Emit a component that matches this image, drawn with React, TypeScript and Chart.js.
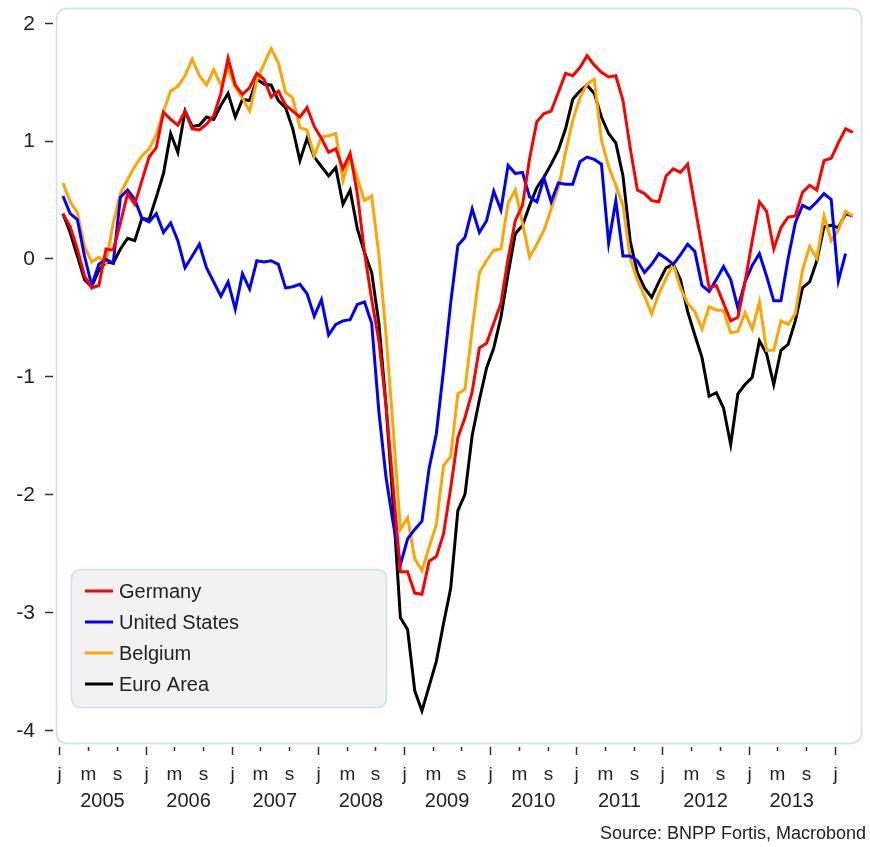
import React, { useEffect, useRef } from 'react';
import { Chart, registerables } from 'chart.js';

Chart.register(...registerables);

// Monthly data, January 2005 onwards
const startYear = 2005;
const years = [2005, 2006, 2007, 2008, 2009, 2010, 2011, 2012, 2013];
const yTicks = [2, 1, 0, -1, -2, -3, -4];
const monthTickLabels = ['j', 'm', 's'];
const seriesNames = ['Germany', 'United States', 'Belgium', 'Euro Area'];
const seriesColors = ['#ff0000', '#0000ff', '#ffa500', '#000000'];
const sourceText = 'Source: BNPP Fortis, Macrobond';

const germany = [
  0.38, 0.27, 0.08, -0.15, -0.25, -0.23, 0.08, 0.07, 0.30, 0.55, 0.46, 0.66,
  0.86, 0.94, 1.24, 1.18, 1.13, 1.25, 1.10, 1.09, 1.14, 1.21, 1.40, 1.70,
  1.47, 1.39, 1.45, 1.57, 1.52, 1.37, 1.42, 1.30, 1.25, 1.20, 1.28, 1.12,
  1.02, 0.90, 0.93, 0.76, 0.89, 0.55, 0.05, -0.35, -0.70, -1.25, -1.95, -2.66,
  -2.66, -2.84, -2.85, -2.57, -2.53, -2.34, -1.95, -1.52, -1.35, -1.13, -0.76, -0.72,
  -0.55, -0.38, 0.00, 0.32, 0.45, 0.85, 1.16, 1.23, 1.25, 1.41, 1.57, 1.55,
  1.62, 1.72, 1.64, 1.58, 1.54, 1.55, 1.34, 0.94, 0.58, 0.55, 0.49, 0.48,
  0.70, 0.76, 0.73, 0.80, 0.45, 0.10, -0.25, -0.23, -0.38, -0.53, -0.50, -0.20,
  0.15, 0.48, 0.40, 0.08, 0.26, 0.35, 0.36, 0.56, 0.62, 0.58, 0.83, 0.85,
  0.98, 1.10, 1.07,
];

const unitedStates = [
  0.53, 0.38, 0.33, 0.02, -0.23, -0.05, -0.01, -0.04, 0.52, 0.58, 0.50, 0.34,
  0.31, 0.38, 0.22, 0.30, 0.15, -0.08, 0.02, 0.12, -0.08, -0.20, -0.32, -0.20,
  -0.43, -0.13, -0.26, -0.02, -0.03, -0.02, -0.05, -0.25, -0.24, -0.22, -0.30, -0.49,
  -0.35, -0.65, -0.56, -0.53, -0.52, -0.39, -0.37, -0.55, -1.30, -1.86, -2.25, -2.60,
  -2.38, -2.30, -2.23, -1.78, -1.49, -0.95, -0.38, 0.11, 0.18, 0.42, 0.22, 0.32,
  0.57, 0.41, 0.79, 0.72, 0.73, 0.52, 0.48, 0.68, 0.48, 0.64, 0.63, 0.63,
  0.82, 0.86, 0.84, 0.80, 0.13, 0.49, 0.02, 0.02, -0.02, -0.12, -0.05, 0.04,
  0.00, -0.05, 0.03, 0.12, 0.06, -0.23, -0.28, -0.18, -0.07, -0.18, -0.42, -0.20,
  -0.06, 0.04, -0.15, -0.36, -0.36, 0.00, 0.30, 0.45, 0.42, 0.48, 0.55, 0.50,
  -0.19, 0.04,
];

const belgium = [
  0.64, 0.48, 0.39, 0.10, -0.03, 0.01, -0.04, 0.30, 0.55, 0.67, 0.78, 0.87,
  0.93, 1.05, 1.25, 1.42, 1.46, 1.55, 1.69, 1.55, 1.47, 1.60, 1.47, 1.61,
  1.45, 1.36, 1.25, 1.51, 1.65, 1.78, 1.66, 1.41, 1.36, 1.11, 1.09, 0.87,
  1.03, 1.04, 1.06, 0.66, 0.87, 0.68, 0.49, 0.53, 0.03, -0.65, -1.45, -2.30,
  -2.20, -2.55, -2.65, -2.45, -2.26, -1.76, -1.68, -1.15, -1.11, -0.60, -0.12, -0.02,
  0.07, 0.08, 0.47, 0.58, 0.30, 0.01, 0.12, 0.24, 0.42, 0.60, 0.90, 1.17,
  1.36, 1.48, 1.52, 1.00, 0.78, 0.62, 0.45, 0.00, -0.18, -0.32, -0.47, -0.30,
  -0.17, -0.05, -0.25, -0.38, -0.45, -0.60, -0.41, -0.44, -0.44, -0.63, -0.62, -0.46,
  -0.60, -0.37, -0.78, -0.78, -0.53, -0.56, -0.47, -0.10, 0.10, 0.00, 0.36, 0.15,
  0.24, 0.40, 0.36,
];

const euroArea = [
  0.38, 0.22, 0.02, -0.18, -0.24, -0.10, -0.03, -0.04, 0.08, 0.17, 0.15, 0.34,
  0.33, 0.52, 0.72, 1.06, 0.90, 1.25, 1.12, 1.13, 1.20, 1.18, 1.30, 1.40,
  1.20, 1.35, 1.34, 1.52, 1.48, 1.47, 1.34, 1.28, 1.10, 0.83, 1.02, 0.86,
  0.78, 0.70, 0.77, 0.46, 0.58, 0.25, 0.05, -0.12, -0.55, -1.25, -2.10, -3.05,
  -3.15, -3.67, -3.84, -3.63, -3.42, -3.10, -2.80, -2.14, -2.00, -1.50, -1.20, -0.93,
  -0.76, -0.50, -0.13, 0.21, 0.28, 0.45, 0.60, 0.69, 0.80, 0.92, 1.10, 1.35,
  1.42, 1.47, 1.40, 1.20, 1.06, 0.98, 0.70, 0.15, -0.12, -0.25, -0.33, -0.20,
  -0.08, -0.05, -0.18, -0.45, -0.65, -0.84, -1.17, -1.14, -1.27, -1.58, -1.15, -1.07,
  -1.01, -0.70, -0.81, -1.07, -0.78, -0.73, -0.53, -0.25, -0.20, -0.02, 0.27, 0.28,
  0.26, 0.38, 0.36,
];

const seriesValues = [germany, unitedStates, belgium, euroArea];

const FONT = '"Liberation Sans", Arial, Helvetica, sans-serif';
const TEXT = '#222222';
const BORDER = '#c9e3ee';

const decoPlugin = {
  id: 'deco',
  beforeDraw(chart: any) {
    const { ctx } = chart;
    ctx.save();
    ctx.fillStyle = '#ffffff';
    ctx.fillRect(0, 0, chart.width, chart.height);
    ctx.restore();
  },
  beforeDatasetsDraw(chart: any) {
    const { ctx, chartArea: a } = chart;
    ctx.save();
    ctx.beginPath();
    (ctx as any).roundRect(a.left + 0.5, a.top + 0.5, a.right - a.left - 1, a.bottom - a.top - 1, 10);
    ctx.strokeStyle = BORDER;
    ctx.lineWidth = 1.5;
    ctx.stroke();
    ctx.restore();
  },
  afterDraw(chart: any) {
    const { ctx, chartArea: a } = chart;
    const xs = chart.scales.x;
    const ys = chart.scales.y;
    ctx.save();
    // y tick marks and labels
    ctx.strokeStyle = '#333333';
    ctx.fillStyle = TEXT;
    ctx.lineWidth = 1.5;
    ctx.font = `21px ${FONT}`;
    ctx.textAlign = 'right';
    ctx.textBaseline = 'middle';
    yTicks.forEach((v) => {
      const yp = ys.getPixelForValue(v);
      const y = Math.round(yp) + 0.5;
      ctx.beginPath();
      ctx.moveTo(45, y);
      ctx.lineTo(53, y);
      ctx.stroke();
      ctx.fillText(String(v), 35, yp + 1);
    });
    // x tick marks and month labels
    const nMonths = years.length * 12 + 1;
    ctx.textAlign = 'center';
    ctx.textBaseline = 'alphabetic';
    for (let m = 0; m < nMonths; m += 4) {
      const x = Math.round(xs.getPixelForValue(m)) + 0.5;
      const isJan = m % 12 === 0;
      ctx.lineWidth = 1.5;
      ctx.beginPath();
      ctx.moveTo(x, a.bottom + 3);
      ctx.lineTo(x, a.bottom + (isJan ? 11 : 7));
      ctx.stroke();
      ctx.font = `19px ${FONT}`;
      ctx.fillText(monthTickLabels[(m % 12) / 4], x, 780);
    }
    // year labels
    ctx.font = `20px ${FONT}`;
    years.forEach((yr) => {
      const x = xs.getPixelForValue((yr - startYear) * 12 + 6);
      ctx.fillText(String(yr), x, 807);
    });
    // source
    ctx.font = `18px ${FONT}`;
    ctx.textAlign = 'right';
    ctx.fillText(sourceText, 866, 839);

    // legend
    const lx = 71, ly = 569, lw = 315, lh = 138;
    ctx.beginPath();
    (ctx as any).roundRect(lx + 0.5, ly + 0.5, lw, lh, 9);
    ctx.fillStyle = '#f2f2f2';
    ctx.fill();
    ctx.strokeStyle = BORDER;
    ctx.lineWidth = 1.5;
    ctx.stroke();
    ctx.textAlign = 'left';
    ctx.textBaseline = 'middle';
    ctx.font = `20px ${FONT}`;
    chart.data.datasets.forEach((ds: any, i: number) => {
      const y = 591 + i * 31;
      ctx.strokeStyle = ds.borderColor;
      ctx.lineWidth = 3;
      ctx.beginPath();
      ctx.moveTo(85, y);
      ctx.lineTo(113, y);
      ctx.stroke();
      ctx.fillStyle = TEXT;
      ctx.fillText(ds.label, 119, y + 1);
    });
    ctx.restore();
  },
};

export default function App() {
  const canvasRef = useRef<HTMLCanvasElement | null>(null);

  useEffect(() => {
    document.body.style.margin = '0';
    const canvas = canvasRef.current;
    if (!canvas) return;
    const datasets = seriesNames.map((name, k) => ({
      label: name,
      data: seriesValues[k].map((v, i) => ({ x: i + 0.5, y: v })),
      borderColor: seriesColors[k],
      backgroundColor: seriesColors[k],
      borderWidth: 3,
      pointRadius: 0,
      tension: 0,
      fill: false,
    }));
    const chart = new Chart(canvas, {
      type: 'line',
      data: { datasets },
      plugins: [decoPlugin],
      options: {
        animation: false,
        responsive: true,
        maintainAspectRatio: false,
        layout: { padding: { top: 8, right: 8, left: 0, bottom: 0 } },
        plugins: {
          legend: { display: false },
          tooltip: { enabled: false },
        },
        scales: {
          x: {
            type: 'linear',
            min: -0.47,
            max: 111.79,
            grid: { display: false, drawTicks: false },
            border: { display: false },
            ticks: { display: false },
            afterFit: (s: any) => {
              s.height = 103;
            },
          },
          y: {
            type: 'linear',
            min: -4.121,
            max: 2.125,
            grid: { display: false, drawTicks: false },
            border: { display: false },
            ticks: { display: false },
            afterBuildTicks: (s: any) => {
              s.ticks = yTicks.map((v) => ({ value: v }));
            },
            afterFit: (s: any) => {
              s.width = 56;
            },
          },
        },
      },
    });
    return () => chart.destroy();
  }, []);

  return (
    <div style={{ position: 'relative', width: 870, height: 847 }}>
      <canvas ref={canvasRef} />
    </div>
  );
}
